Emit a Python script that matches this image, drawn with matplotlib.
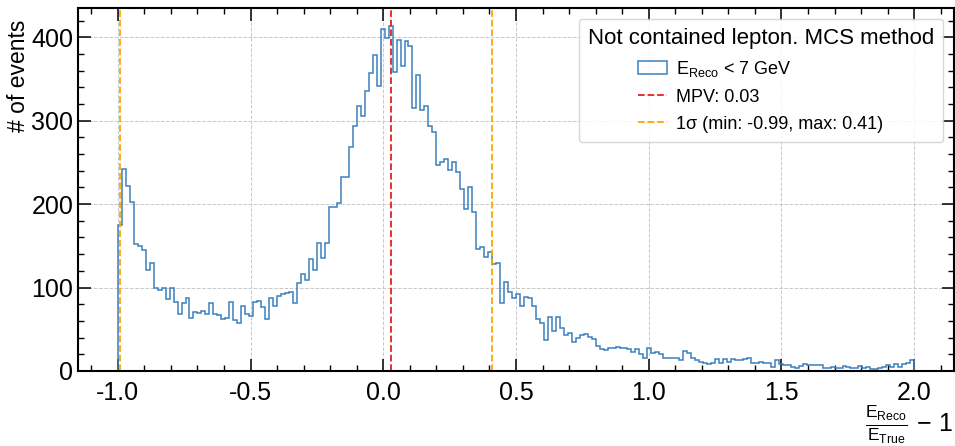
import numpy as np
import matplotlib
matplotlib.use("Agg")
import matplotlib.pyplot as plt
from matplotlib.ticker import MultipleLocator

plt.rcParams['font.family'] = ['Liberation Sans', 'DejaVu Sans']
plt.rcParams['mathtext.fontset'] = 'custom'
plt.rcParams['mathtext.rm'] = 'Liberation Sans'
plt.rcParams['mathtext.it'] = 'Liberation Sans:italic'
plt.rcParams['mathtext.bf'] = 'Liberation Sans:bold'
plt.rcParams['axes.unicode_minus'] = False

# histogram: 200 bins from -1 to 2
x_min, x_max, n_bins = -1.0, 2.0, 200
counts = [
    175, 242, 222, 203, 152, 150, 145, 121, 129, 100,
    97, 100, 86, 100, 83, 68, 82, 87, 63, 71,
    69, 72, 68, 82, 68, 67, 62, 63, 83, 61,
    57, 78, 68, 66, 83, 84, 77, 62, 87, 78,
    90, 92, 93, 95, 81, 105, 116, 109, 134, 121,
    153, 135, 153, 197, 197, 201, 233, 233, 268, 293,
    317, 305, 335, 357, 379, 342, 410, 399, 414, 358,
    397, 365, 395, 390, 315, 355, 313, 318, 293, 287,
    247, 250, 254, 241, 251, 238, 218, 194, 221, 190,
    146, 149, 137, 143, 128, 130, 82, 107, 95, 88,
    92, 78, 89, 87, 78, 62, 58, 37, 65, 48,
    65, 52, 43, 46, 35, 40, 43, 44, 41, 38,
    30, 26, 25, 28, 28, 29, 27, 28, 26, 23,
    26, 20, 16, 28, 21, 23, 20, 15, 16, 16,
    15, 13, 24, 21, 16, 13, 11, 9, 8, 9,
    14, 9, 14, 11, 14, 13, 13, 14, 15, 10,
    10, 11, 10, 9, 5, 13, 8, 7, 7, 5,
    4, 6, 8, 7, 7, 7, 7, 3, 3, 5,
    3, 4, 6, 5, 3, 3, 6, 3, 5, 2,
    2, 4, 5, 7, 5, 8, 5, 8, 9, 13,
]
mpv = 0.03
sigma_min, sigma_max = -0.99, 0.41

title = "Not contained lepton. MCS method"
hist_label = r"$\mathrm{E_{Reco}}$ < 7 GeV"
mpv_label = f"MPV: {mpv:.2f}"
sigma_label = f"1σ (min: {sigma_min:.2f}, max: {sigma_max:.2f})"

edges = np.linspace(x_min, x_max, n_bins + 1)
centers = 0.5 * (edges[:-1] + edges[1:])

fig = plt.figure(figsize=(9.55, 4.46), dpi=100)
ax = fig.add_axes([78 / 955, 75 / 446, 876 / 955, 363 / 446])

ax.hist(centers, bins=edges, weights=counts, histtype='step',
        color='#3b80bf', lw=1.1, label=hist_label)
ax.axvline(mpv, color='#e4201c', ls='--', lw=1.3, label=mpv_label)
ax.axvline(sigma_min, color='orange', ls='--', lw=1.3, label=sigma_label)
ax.axvline(sigma_max, color='orange', ls='--', lw=1.3)

ax.set_xlim(-1.15, 2.15)
ax.set_ylim(0, 435)

ax.xaxis.set_major_locator(MultipleLocator(0.5))
ax.xaxis.set_minor_locator(MultipleLocator(0.1))
ax.yaxis.set_major_locator(MultipleLocator(100))
ax.yaxis.set_minor_locator(MultipleLocator(20))
ax.tick_params(which='both', direction='in', top=True, right=True, labelsize=18)
ax.tick_params(which='major', length=9, width=1.1)
ax.tick_params(which='minor', length=4.5, width=1.0)
ax.tick_params(axis='x', pad=7)
for sp in ax.spines.values():
    sp.set_linewidth(1.5)

ax.grid(True, which='major', ls='--', color='#c8c8c8', lw=0.7)
ax.set_axisbelow(True)

ax.set_ylabel("# of events", fontsize=16.5, loc='top')
ax.yaxis.set_label_coords(-0.055, 0.967)
ax.set_xlabel(r"$\frac{\mathrm{E_{Reco}}}{\mathrm{E_{True}}}\,-\,1$",
              fontsize=18, loc='right', labelpad=-1.5)

leg = ax.legend(loc='upper right', title=title, title_fontsize=16, fontsize=13,
                frameon=True, fancybox=True, framealpha=0.85, edgecolor='#d0d0d0',
                handlelength=1.6, handletextpad=0.5, labelspacing=0.55,
                borderaxespad=0.6, borderpad=0.5)

fig.savefig("out.png", dpi=100)
